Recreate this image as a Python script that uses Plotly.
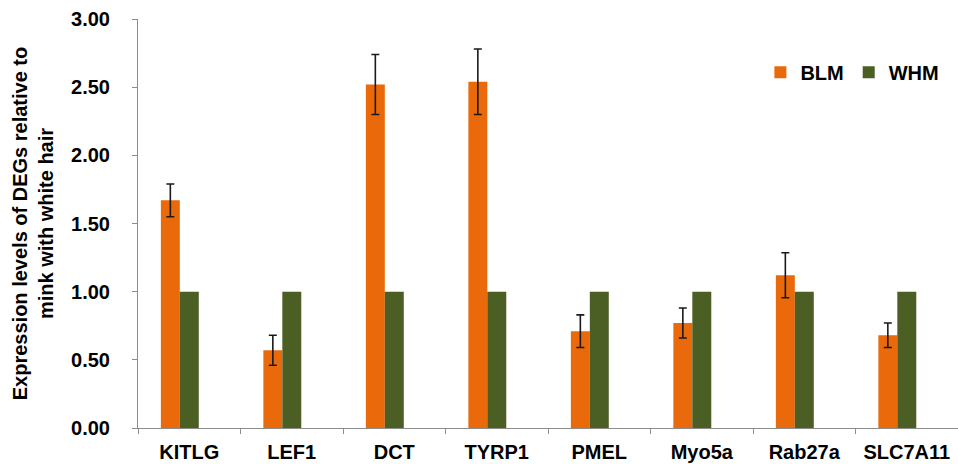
import plotly.graph_objects as go

# Relative expression of pigmentation-related DEGs (qRT-PCR)
genes = ["KITLG", "LEF1", "DCT", "TYRP1", "PMEL", "Myo5a", "Rab27a", "SLC7A11"]
blm_values = [1.67, 0.57, 2.52, 2.54, 0.71, 0.77, 1.12, 0.68]
blm_errors = [0.12, 0.11, 0.22, 0.24, 0.12, 0.11, 0.165, 0.09]
whm_values = [1.00, 1.00, 1.00, 1.00, 1.00, 1.00, 1.00, 1.00]
y_ticks = [0.0, 0.5, 1.0, 1.5, 2.0, 2.5, 3.0]

ORANGE = "#EA690B"
GREEN = "#4B5E24"
FONT = "Arial, Liberation Sans, sans-serif"
AXIS_GREY = "#8c8c8c"

BAR_W = 0.185

fig = go.Figure()
fig.add_trace(go.Bar(
    x=genes, y=blm_values, name="BLM",
    marker=dict(color=ORANGE, line=dict(width=0)),
    width=BAR_W, offset=-0.277,
    error_y=dict(type="data", array=blm_errors, visible=True,
                 color="#1a1a1a", thickness=1.6, width=4),
))
fig.add_trace(go.Bar(
    x=genes, y=whm_values, name="WHM",
    marker=dict(color=GREEN, line=dict(width=0)),
    width=BAR_W, offset=-0.277 + BAR_W,
))

bold20 = dict(family=FONT, size=20, color="black", weight="bold")

fig.update_layout(
    width=958, height=464,
    margin=dict(l=138, r=0, t=19, b=36),
    paper_bgcolor="white", plot_bgcolor="white",
    font=dict(family=FONT, size=20, color="black"),
    barmode="overlay",
    showlegend=True,
    legend=dict(
        orientation="h", x=0.759, y=0.87, xanchor="left", yanchor="middle",
        font=bold20, bgcolor="rgba(0,0,0,0)", itemwidth=30,
        traceorder="normal",
    ),
    xaxis=dict(
        type="category", range=[-0.5, 7.5],
        showline=True, linecolor=AXIS_GREY, linewidth=1,
        ticks="outside", tickson="boundaries", ticklen=5, tickcolor=AXIS_GREY,
        tickfont=bold20, ticklabelstandoff=6,
        showgrid=False, zeroline=False,
    ),
    yaxis=dict(
        range=[0, 3], tickvals=y_ticks, tickformat=".2f",
        showline=True, linecolor=AXIS_GREY, linewidth=1,
        ticks="outside", ticklen=5, tickcolor=AXIS_GREY,
        tickfont=bold20, ticklabelstandoff=18,
        showgrid=False, zeroline=False,
        title=dict(
            text="Expression levels of DEGs relative to<br>mink with white hair",
            font=bold20, standoff=12,
        ),
    ),
)

fig.write_html("out.html")
